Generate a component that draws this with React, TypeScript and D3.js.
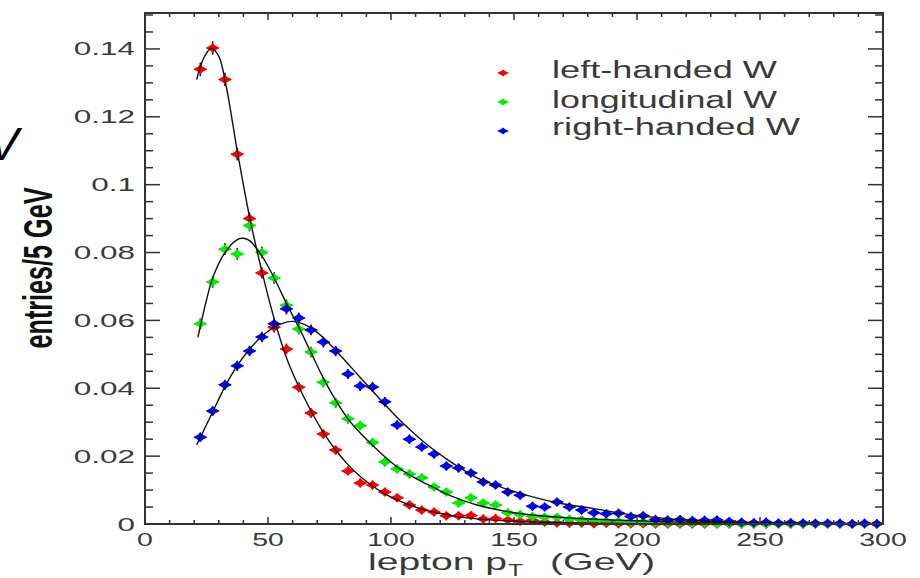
import React from "react";
import * as d3 from "d3";

// ---- data ----
const binCenters = d3.range(22.5, 300, 5); // 5 GeV bins
const leftHanded = [
  0.134, 0.1403, 0.131, 0.109, 0.09, 0.074, 0.058, 0.0516, 0.0403, 0.0327,
  0.0265, 0.0218, 0.0156, 0.0121, 0.0115, 0.0094, 0.0077, 0.0056, 0.0041, 0.0035,
  0.0024, 0.0024, 0.0025, 0.0015, 0.0016, 0.0012, 0.0008, 0.0011, 0.0006, 0.0003,
  0.0002, 0.0003, 0.0001, 0.0002, 0.0001, 0.0001, 0.0001, 0, 0, 0,
  0, 0, 0, 0, 0, 0, 0, 0, 0, 0,
  0, 0, 0, 0, 0, 0,
];
const longitudinal = [
  0.059, 0.0713, 0.081, 0.0796, 0.088, 0.08, 0.0725, 0.0645, 0.0575, 0.0507,
  0.0418, 0.0357, 0.031, 0.029, 0.024, 0.0183, 0.0162, 0.0147, 0.0136, 0.0109,
  0.0094, 0.0062, 0.0077, 0.0062, 0.0056, 0.0033, 0.0028, 0.0022, 0.002, 0.002,
  0.0014, 0.0012, 0.001, 0.0008, 0.0007, 0.0005, 0.0006, 0.0004, 0.0003, 0.0003,
  0.0002, 0.0002, 0.0001, 0.0001, 0, 0, 0, 0, 0, 0,
  0, 0, 0, 0, 0, 0,
];
const rightHanded = [
  0.0256, 0.0333, 0.041, 0.0466, 0.051, 0.0551, 0.059, 0.0634, 0.0607, 0.0572,
  0.0536, 0.051, 0.0442, 0.0407, 0.0404, 0.036, 0.0292, 0.025, 0.0227, 0.0206,
  0.0171, 0.0165, 0.015, 0.0124, 0.0115, 0.0094, 0.0085, 0.0052, 0.005, 0.0065,
  0.005, 0.0041, 0.0033, 0.003, 0.0032, 0.0022, 0.0024, 0.0013, 0.0012, 0.0013,
  0.001, 0.0011, 0.0012, 0.0007, 0.0005, 0.0004, 0.0005, 0.0003, 0.0004, 0.0003,
  0.0002, 0.0002, 0.0002, 0.0001, 0.0002, 0.0001,
];

// fitted curves
const fitRedX = [21, 24, 27, 30, 33, 37.5, 42.5, 47.5, 52.5, 57.5, 62.5, 67.5, 72.5, 77.5, 82.5, 87.5, 92.5, 97.5, 102.5, 107.5, 112.5, 117.5, 122.5, 127.5, 135, 150, 175, 200, 250, 300];
const fitRedY = [0.131, 0.1375, 0.1402, 0.1378, 0.129, 0.11, 0.0905, 0.0745, 0.0605, 0.049, 0.0405, 0.0333, 0.027, 0.0218, 0.0175, 0.014, 0.0112, 0.0089, 0.0071, 0.0056, 0.0044, 0.0035, 0.0028, 0.0021, 0.0015, 0.0008, 0.0003, 0.0001, 0, 0];
const fitGreenX = [21.5, 25, 27.5, 32.5, 37.5, 40, 42.5, 47.5, 52.5, 57.5, 62.5, 67.5, 72.5, 77.5, 82.5, 87.5, 92.5, 97.5, 102.5, 107.5, 112.5, 117.5, 122.5, 127.5, 135, 150, 170, 190, 210, 240, 300];
const fitGreenY = [0.055, 0.066, 0.0725, 0.08, 0.0838, 0.0842, 0.0835, 0.079, 0.0725, 0.065, 0.058, 0.0505, 0.043, 0.0365, 0.031, 0.0268, 0.0232, 0.0198, 0.0168, 0.0145, 0.0125, 0.0107, 0.0089, 0.0074, 0.0056, 0.0033, 0.0019, 0.0012, 0.0007, 0.0003, 0];
const fitBlueX = [21, 27.5, 32.5, 37.5, 42.5, 47.5, 52.5, 57.5, 60, 62.5, 67.5, 72.5, 77.5, 82.5, 87.5, 92.5, 97.5, 102.5, 107.5, 112.5, 117.5, 122.5, 127.5, 135, 145, 155, 168, 182, 195, 209, 222, 236, 260, 300];
const fitBlueY = [0.0233, 0.033, 0.0405, 0.0467, 0.0515, 0.0553, 0.058, 0.0595, 0.0597, 0.0594, 0.0578, 0.0549, 0.0512, 0.0472, 0.0432, 0.0392, 0.0352, 0.0314, 0.0279, 0.0247, 0.0218, 0.0192, 0.0168, 0.0136, 0.0108, 0.0085, 0.0062, 0.0046, 0.003, 0.0018, 0.0011, 0.0006, 0.0002, 0];

const legendLabels = ["left-handed W", "longitudinal W", "right-handed W"];
const seriesColors = ["#ff0000", "#00ee00", "#0000ff"];
const yTickValues = [0, 0.02, 0.04, 0.06, 0.08, 0.1, 0.12, 0.14];
const yTickLabels = ["0", "0.02", "0.04", "0.06", "0.08", "0.1", "0.12", "0.14"];
const xTickValues = [0, 50, 100, 150, 200, 250, 300];
const xTickLabels = ["0", "50", "100", "150", "200", "250", "300"];

export default function App() {
  const W = 920, H = 578;
  const L = 145, R = 883, T = 13, B = 524;
  const x = d3.scaleLinear().domain([0, 300]).range([L, R]);
  const y = d3.scaleLinear().domain([0, 0.15]).range([B, 15]);

  const series = [leftHanded, longitudinal, rightHanded];
  const fits = [
    [fitRedX, fitRedY],
    [fitGreenX, fitGreenY],
    [fitBlueX, fitBlueY],
  ];
  const line = d3
    .line<[number, number]>()
    .x((d) => x(d[0]))
    .y((d) => y(d[1]))
    .curve(d3.curveCatmullRom.alpha(0.5));

  const xMinor = d3.range(0, 301, 10);
  const yMinor = d3.range(0, 0.1501, 0.005);
  const frameColor = "#333";
  const textColor = "#3a3a3a";
  const font = "'Liberation Sans', Arial, sans-serif";

  const marker = (hw: number, hh: number) =>
    `M${-hw},0 L${-hw * 0.3},${-hh * 0.55} L0,${-hh} L${hw * 0.3},${-hh * 0.55} L${hw},0 L${hw * 0.3},${hh * 0.55} L0,${hh} L${-hw * 0.3},${hh * 0.55} Z`;

  return (
    <svg width={W} height={H} style={{ position: "absolute", left: 0, top: 0, background: "#fff" }}>
      <rect x={0} y={0} width={W} height={H} fill="#fff" />
      {/* stray glyph at the top-left */}
      <text x={-12} y={160} fontFamily={font} fontSize={46} fontStyle="italic" fill="#000">V</text>

      {/* data markers */}
      {series.map((vals, si) => (
        <g key={si}>
          {vals.map((v, i) => {
            const cx = x(binCenters[i]);
            const cy = y(v);
            const e = 3 + 10 * Math.sqrt(v);
            return (
              <g key={i} transform={`translate(${cx},${cy})`}>
                <line x1={0} x2={0} y1={-e} y2={e} stroke="#111" strokeWidth={1.6} />
                <line x1={-6} x2={6} y1={0} y2={0} stroke="#111" strokeWidth={1.2} />
                <path d={marker(7, 5)} fill={seriesColors[si]} />
              </g>
            );
          })}
        </g>
      ))}

      {/* fits */}
      {fits.map(([fx, fy], i) => (
        <path
          key={i}
          d={line(fx.map((xv, k) => [xv, fy[k]] as [number, number])) || ""}
          fill="none"
          stroke="#111"
          strokeWidth={1.4}
        />
      ))}

      {/* frame */}
      <rect x={L} y={T} width={R - L} height={B - T} fill="none" stroke={frameColor} strokeWidth={2} />

      {/* x ticks bottom & top */}
      {xMinor.map((v) => {
        const major = v % 50 === 0;
        const len = major ? 7 : 4;
        return (
          <g key={v}>
            <line x1={x(v)} x2={x(v)} y1={B} y2={B - len} stroke={frameColor} strokeWidth={1.5} />
            <line x1={x(v)} x2={x(v)} y1={T} y2={T + len} stroke={frameColor} strokeWidth={1.5} />
          </g>
        );
      })}
      {/* y ticks left & right */}
      {yMinor.map((v, i) => {
        const major = i % 4 === 0;
        const len = major ? 15 : 8;
        return (
          <g key={i}>
            <line x1={L} x2={L + len} y1={y(v)} y2={y(v)} stroke={frameColor} strokeWidth={1.5} />
            <line x1={R} x2={R - len} y1={y(v)} y2={y(v)} stroke={frameColor} strokeWidth={1.5} />
          </g>
        );
      })}

      {/* y tick labels */}
      {yTickValues.map((v, i) => (
        <text
          key={i}
          transform={`translate(135,${y(v) + 6.5}) scale(1.75,1)`}
          textAnchor="end"
          fontFamily={font}
          fontSize={18}
          fill={textColor}
        >
          {yTickLabels[i]}
        </text>
      ))}
      {/* x tick labels */}
      {xTickValues.map((v, i) => (
        <text
          key={i}
          transform={`translate(${x(v)},546) scale(1.5,1)`}
          textAnchor="middle"
          fontFamily={font}
          fontSize={19}
          fill={textColor}
        >
          {xTickLabels[i]}
        </text>
      ))}

      {/* axis titles */}
      <text
        transform="translate(52,268) rotate(-90)"
        textAnchor="middle"
        fontFamily={font}
        fontWeight="bold"
        fontSize={40}
        fill="#111"
        textLength={161}
        lengthAdjust="spacingAndGlyphs"
      >
        entries/5 GeV
      </text>
      <text x={368} y={570} fontFamily={font} fontSize={24} fill={textColor} textLength={139} lengthAdjust="spacingAndGlyphs">
        lepton p
      </text>
      <text x={508} y={576} fontFamily={font} fontSize={16} fill={textColor} textLength={15} lengthAdjust="spacingAndGlyphs">
        T
      </text>
      <text x={550} y={570} fontFamily={font} fontSize={24} fill={textColor} textLength={105} lengthAdjust="spacingAndGlyphs">
        (GeV)
      </text>

      {/* legend */}
      {legendLabels.map((lab, i) => {
        const ly = [73, 102, 131][i];
        const by = [78, 108, 135][i];
        const tl = [225, 225, 248][i];
        return (
          <g key={lab}>
            <path d={marker(6, 3.5)} transform={`translate(503,${ly})`} fill={seriesColors[i]} />
            <text x={552} y={by} fontFamily={font} fontSize={23} fill={textColor} textLength={tl} lengthAdjust="spacingAndGlyphs">
              {lab}
            </text>
          </g>
        );
      })}
    </svg>
  );
}
